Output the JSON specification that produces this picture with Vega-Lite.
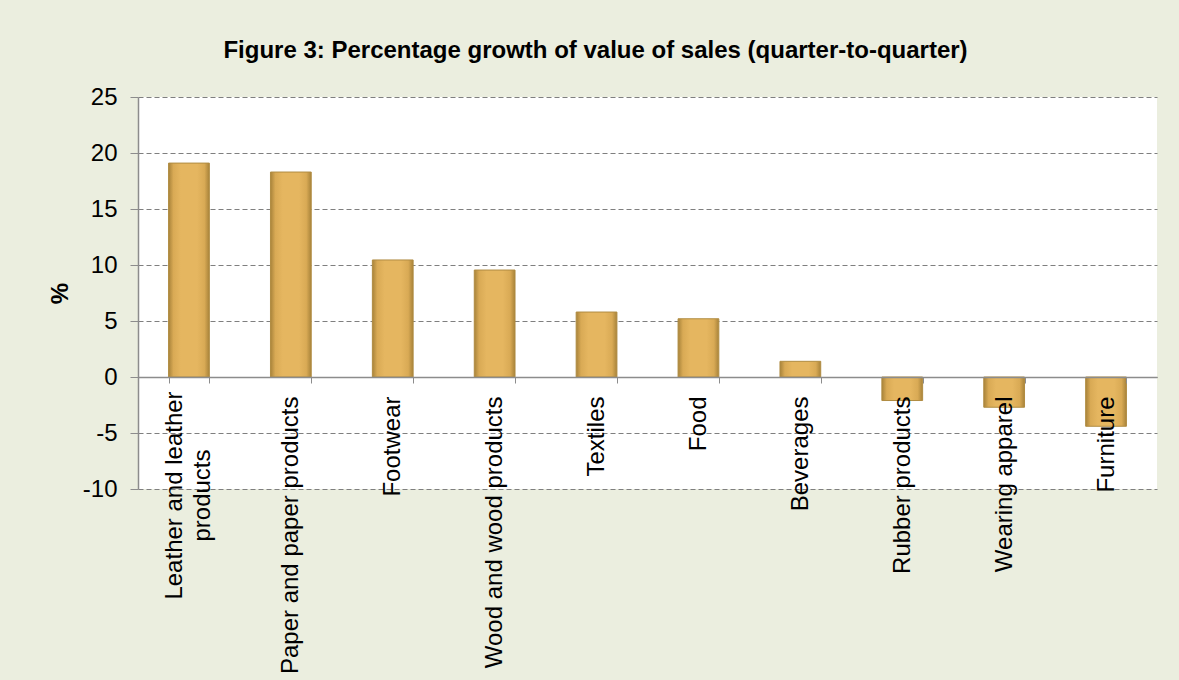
{
  "$schema": "https://vega.github.io/schema/vega-lite/v6.json",
  "width": 1019,
  "height": 392,
  "autosize": {"type": "none"},
  "padding": {"left": 138, "top": 97, "right": 22, "bottom": 191},
  "background": "#EBEEDF",
  "title": {
    "text": "Figure 3: Percentage growth of value of sales (quarter-to-quarter)",
    "font": "Liberation Sans",
    "fontSize": 24,
    "fontWeight": "bold",
    "color": "#000000",
    "anchor": "middle",
    "dx": -52,
    "offset": 22
  },
  "config": {
    "view": {"fill": "#FFFFFF", "stroke": null},
    "font": "Liberation Sans"
  },
  "data": {
    "values": [
      {"sector": "Leather and leather products", "growth": 19.1},
      {"sector": "Paper and paper products", "growth": 18.3},
      {"sector": "Footwear", "growth": 10.45},
      {"sector": "Wood and wood products", "growth": 9.55},
      {"sector": "Textiles", "growth": 5.8},
      {"sector": "Food", "growth": 5.2},
      {"sector": "Beverages", "growth": 1.4},
      {"sector": "Rubber products", "growth": -2.1},
      {"sector": "Wearing apparel", "growth": -2.7},
      {"sector": "Furniture", "growth": -4.4}
    ]
  },
  "layer": [
    {
      "mark": {
        "type": "bar",
        "color": {
          "x1": 0, "y1": 0, "x2": 1, "y2": 0,
          "gradient": "linear",
          "stops": [
            {"offset": 0, "color": "#A8833A"},
            {"offset": 0.12, "color": "#D9AA55"},
            {"offset": 0.3, "color": "#E5B660"},
            {"offset": 0.7, "color": "#E5B660"},
            {"offset": 0.88, "color": "#D9AA55"},
            {"offset": 1, "color": "#A8833A"}
          ]
        },
        "stroke": "#B08C42",
        "strokeWidth": 1
      },
      "encoding": {
        "x": {
          "field": "sector",
          "type": "nominal",
          "sort": null,
          "scale": {"paddingInner": 0.6, "paddingOuter": 0.3},
          "axis": {
            "title": null,
            "zindex": 2,
            "offset": -112,
            "labelAngle": 270,
            "labelAlign": {"condition": {"test": "datum.value == 'Leather and leather products'", "value": "center"}, "value": "right"},
            "labelBaseline": "middle",
            "labelFont": "Liberation Sans",
            "labelFontSize": 24,
            "labelColor": "#000000",
            "labelPadding": {"condition": {"test": "datum.value == 'Leather and leather products'", "value": 112}, "value": 13},
            "labelExpr": "datum.label == 'Leather and leather products' ? ['Leather and leather', 'products'] : datum.label",
            "labelLineHeight": 28,
            "labelOffset": {"condition": {"test": "datum.value == 'Leather and leather products'", "value": -14}, "value": 0},
            "labelLimit": 400,
            "tickBand": "extent",
            "tickSize": 6,
            "tickColor": "#8C8C8C",
            "domainColor": "#8C8C8C",
            "domainWidth": 1.5,
            "labelOverlap": false
          }
        },
        "y": {
          "field": "growth",
          "type": "quantitative",
          "scale": {"domain": [-10, 25], "nice": false},
          "axis": {
            "title": "%",
            "titleFont": "Liberation Sans",
            "titleFontSize": 24,
            "titleFontWeight": "bold",
            "titleColor": "#000000",
            "titleAngle": -90,
            "titleX": -78,
            "titleY": 196,
            "titleAlign": "center",
            "titleBaseline": "middle",
            "values": [-10, -5, 0, 5, 10, 15, 20, 25],
            "labelExpr": "toString(datum.value)",
            "labelFont": "Liberation Sans",
            "labelFontSize": 24,
            "labelColor": "#000000",
            "labelPadding": 13,
            "tickSize": 8,
            "tickColor": "#8C8C8C",
            "domainColor": "#8C8C8C",
            "domainWidth": 1.5,
            "grid": true,
            "gridColor": "#7F7F7F",
            "gridDash": [5, 3],
            "gridWidth": 1.2,
            "gridOpacity": 1
          }
        }
      }
    }
  ]
}
